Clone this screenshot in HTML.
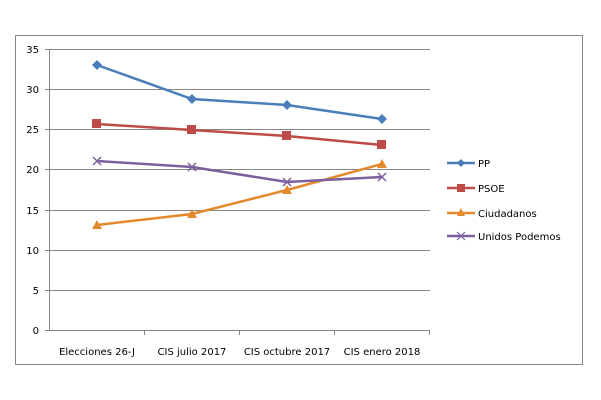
<!DOCTYPE html>
<html><head><meta charset="utf-8"><style>body{margin:0;background:#fff}svg{display:block}text{font-family:"DejaVu Sans","Liberation Sans",sans-serif;font-size:10px;fill:#000}</style></head>
<body>
<svg width="601" height="400" viewBox="0 0 601 400">
<rect x="15.5" y="35.5" width="567" height="329" fill="#fff" stroke="#868686"/>
<g stroke="#868686" stroke-width="1">
<line x1="50" y1="49.5" x2="430" y2="49.5"/>
<line x1="50" y1="89.5" x2="430" y2="89.5"/>
<line x1="50" y1="129.5" x2="430" y2="129.5"/>
<line x1="50" y1="169.5" x2="430" y2="169.5"/>
<line x1="50" y1="210.5" x2="430" y2="210.5"/>
<line x1="50" y1="250.5" x2="430" y2="250.5"/>
<line x1="50" y1="290.5" x2="430" y2="290.5"/>
<line x1="45" y1="330.5" x2="430" y2="330.5"/>
<line x1="49.5" y1="49" x2="49.5" y2="330"/>
<line x1="45" y1="49.5" x2="50" y2="49.5"/><line x1="45" y1="89.5" x2="50" y2="89.5"/><line x1="45" y1="129.5" x2="50" y2="129.5"/><line x1="45" y1="169.5" x2="50" y2="169.5"/><line x1="45" y1="210.5" x2="50" y2="210.5"/><line x1="45" y1="250.5" x2="50" y2="250.5"/><line x1="45" y1="290.5" x2="50" y2="290.5"/>
<line x1="144.5" y1="330" x2="144.5" y2="335"/><line x1="239.5" y1="330" x2="239.5" y2="335"/><line x1="334.5" y1="330" x2="334.5" y2="335"/><line x1="429.5" y1="330" x2="429.5" y2="335"/>
</g>
<g text-anchor="end">
<text x="39" y="53">35</text><text x="39" y="93">30</text><text x="39" y="133">25</text><text x="39" y="173">20</text><text x="39" y="214">15</text><text x="39" y="254">10</text><text x="39" y="294">5</text><text x="39" y="334">0</text>
</g>
<g text-anchor="middle" style="font-size:9.5px">
<text x="97" y="355">Elecciones 26-J</text><text x="192" y="355">CIS julio 2017</text><text x="287" y="355">CIS octubre 2017</text><text x="382" y="355">CIS enero 2018</text>
</g>
<g fill="none" stroke-width="2.5">
<polyline stroke="#4a7ebb" points="97,65 192,99 287,105 382,119"/>
<polyline stroke="#be4b48" points="97,124 192,130 287,136 382,145"/>
<polyline stroke="#e48a2c" points="97,225 192,214 287,190 382,164"/>
<polyline stroke="#7e5f9e" points="97,161 192,167 287,182 382,177"/>
</g>
<g fill="#4a7ebb"><path d="M97,60l5,5l-5,5l-5-5z"/><path d="M192,94l5,5l-5,5l-5-5z"/><path d="M287,100l5,5l-5,5l-5-5z"/><path d="M382,114l5,5l-5,5l-5-5z"/></g>
<g fill="#be4b48"><rect x="92" y="119" width="9" height="9"/><rect x="187" y="125" width="9" height="9"/><rect x="282" y="131" width="9" height="9"/><rect x="377" y="140" width="9" height="9"/></g>
<g fill="#e48a2c"><path d="M97,220l5,9h-10z"/><path d="M192,209l5,9h-10z"/><path d="M287,185l5,9h-10z"/><path d="M382,159l5,9h-10z"/></g>
<g stroke="#7e5f9e" stroke-width="1.5"><path d="M93,157l8,8M101,157l-8,8"/><path d="M188,163l8,8M196,163l-8,8"/><path d="M283,178l8,8M291,178l-8,8"/><path d="M378,173l8,8M386,173l-8,8"/></g>
<g stroke-width="2.5">
<line x1="447" y1="163" x2="475" y2="163" stroke="#4a7ebb"/>
<line x1="447" y1="188" x2="475" y2="188" stroke="#be4b48"/>
<line x1="447" y1="213" x2="475" y2="213" stroke="#e48a2c"/>
<line x1="447" y1="236" x2="475" y2="236" stroke="#7e5f9e"/>
</g>
<path d="M461,159l4,4l-4,4l-4-4z" fill="#4a7ebb"/>
<rect x="457" y="184" width="8" height="8" fill="#be4b48"/>
<path d="M461,208l4,8h-8z" fill="#e48a2c"/>
<path d="M457,232l8,8M465,232l-8,8" stroke="#7e5f9e" stroke-width="1.2"/>
<text x="478" y="167">PP</text><text x="478" y="192">PSOE</text><text x="478" y="217">Ciudadanos</text><text x="478" y="240">Unidos Podemos</text>
</svg>
</body></html>
